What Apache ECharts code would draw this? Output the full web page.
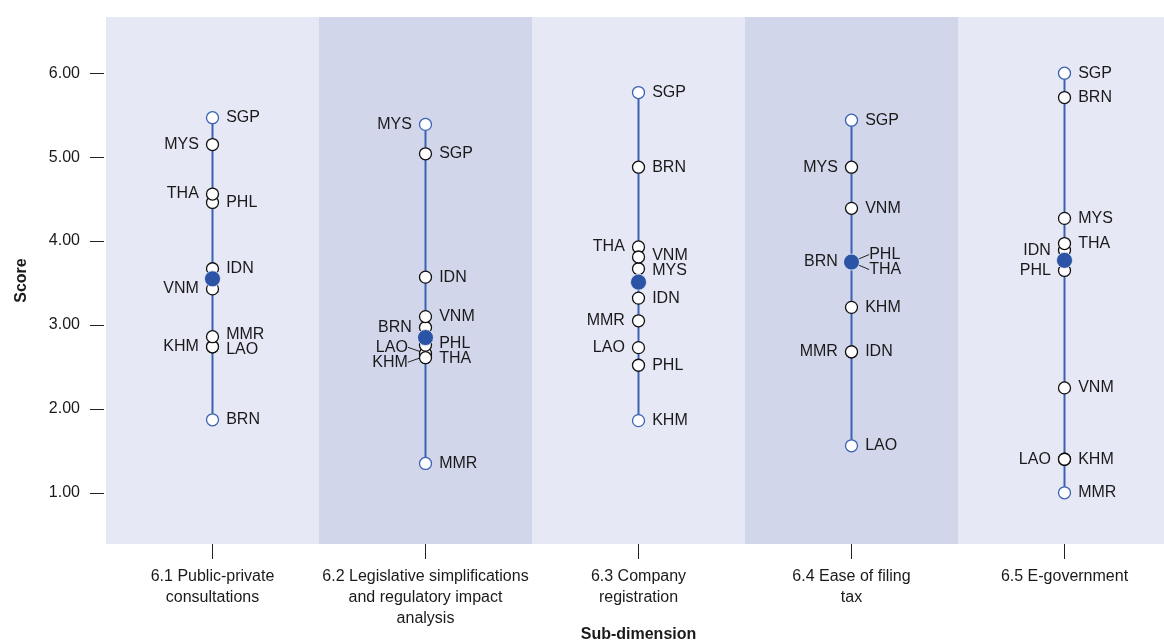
<!DOCTYPE html>
<html>
<head>
<meta charset="utf-8">
<script src="https://cdn.jsdelivr.net/npm/echarts@6/dist/echarts.min.js"></script>
<style>
  html, body { margin: 0; padding: 0; background: #fff; }
  #chart { width: 1164px; height: 644px; }
</style>
</head>
<body>
<div id="chart"></div>
<script>
const categories = [
  '6.1 Public-private\nconsultations',
  '6.2 Legislative simplifications\nand regulatory impact\nanalysis',
  '6.3 Company\nregistration',
  '6.4 Ease of filing\ntax',
  '6.5 E-government'
]
const yTicks = [1, 2, 3, 4, 5, 6]

// scores per country, one value per sub-dimension
const BRN = [1.87, 2.97, 4.88, 3.75, 5.71]
const KHM = [2.74, 2.63, 1.86, 3.21, 1.40]
const IDN = [3.67, 3.57, 3.32, 2.68, 3.89]
const LAO = [2.74, 2.66, 2.73, 1.56, 1.40]
const MYS = [5.15, 5.39, 3.67, 4.88, 4.27]
const MMR = [2.86, 1.35, 3.05, 2.68, 1.00]
const PHL = [4.46, 2.76, 2.52, 3.75, 3.65]
const SGP = [5.47, 5.04, 5.77, 5.44, 6.00]
const THA = [4.56, 2.61, 3.93, 3.75, 3.97]
const VNM = [3.43, 3.10, 3.81, 4.39, 2.25]
const average = [3.55, 2.85, 3.51, 3.75, 3.77]

const countries = [
  ['BRN', BRN], ['KHM', KHM], ['IDN', IDN], ['LAO', LAO], ['MYS', MYS],
  ['MMR', MMR], ['PHL', PHL], ['SGP', SGP], ['THA', THA], ['VNM', VNM]
]

// which labels sit on the left of their point (the rest go right)
const leftLabels = [
  ['MYS', 'THA', 'VNM', 'KHM'],
  ['MYS', 'BRN', 'LAO', 'KHM'],
  ['THA', 'MMR', 'LAO'],
  ['MYS', 'BRN', 'MMR'],
  ['IDN', 'PHL', 'LAO']
]

const FONT = '"Liberation Sans", Arial, sans-serif'
const BLUE = '#3b62b2'
const DOT = '#2b53a6'
const TEXT = '#1a1a1a'

const colMin = categories.map((c, i) => Math.min(...countries.map(d => d[1][i])))
const colMax = categories.map((c, i) => Math.max(...countries.map(d => d[1][i])))

// push overlapping labels apart (clusters centred on their points)
const spread = (items, gap) => {
  items.sort((a, b) => a.y - b.y)
  let clusters = items.map(it => ({ members: [it], center: it.y }))
  let changed = true
  while (changed) {
    changed = false
    for (let i = 0; i < clusters.length - 1; i++) {
      const a = clusters[i], b = clusters[i + 1]
      const aBottom = a.center + (a.members.length - 1) * gap / 2
      const bTop = b.center - (b.members.length - 1) * gap / 2
      if (bTop - aBottom < gap) {
        const members = a.members.concat(b.members)
        const center = members.reduce((s, m) => s + m.y, 0) / members.length
        clusters.splice(i, 2, { members, center })
        changed = true
        break
      }
    }
  }
  clusters.forEach(c => {
    c.members.forEach((m, k) => {
      m.labelY = c.center - (c.members.length - 1) * gap / 2 + k * gap
    })
  })
}

const buildOption = (pxOf) => {
  const points = []
  categories.forEach((c, i) => {
    const col = countries.map(([name, vals]) => ({
      name, value: vals[i], y: pxOf ? pxOf(vals[i]) : 0,
      left: leftLabels[i].includes(name)
    }))
    spread(col.filter(p => p.left), 15)
    spread(col.filter(p => !p.left), 15)
    col.forEach(p => {
      const dy = pxOf ? p.labelY - p.y : 0
      const leader = Math.abs(dy) > 2.5
      const extreme = p.value === colMin[i] || p.value === colMax[i]
      points.push({
        name: p.name,
        value: [i, p.value],
        itemStyle: { color: '#fff', borderColor: extreme ? BLUE : '#111', borderWidth: 1.3, opacity: 1 },
        label: {
          show: true,
          position: p.left ? 'left' : 'right',
          distance: leader ? 11 : 7,
          offset: [0, dy],
          formatter: p.name
        },
        labelLine: { show: leader, lineStyle: { color: '#222', width: 1 } }
      })
    })
  })

  return {
    animation: false,
    backgroundColor: '#fff',
    textStyle: { fontFamily: FONT },
    grid: { left: 106, right: -7, top: 17, bottom: 100, outerBoundsMode: 'none', containLabel: false },
    xAxis: {
      type: 'category',
      data: categories,
      boundaryGap: true,
      name: 'Sub-dimension',
      nameLocation: 'middle',
      nameGap: 83,
      nameMoveOverlap: false,
      nameTextStyle: { fontFamily: FONT, fontSize: 16, fontWeight: 'bold', color: TEXT },
      axisLine: { show: false },
      axisTick: { show: true, alignWithLabel: true, interval: 0, length: 15, lineStyle: { color: '#222' } },
      axisLabel: { interval: 0, margin: 22, fontFamily: FONT, fontSize: 16, lineHeight: 21, color: TEXT },
      splitLine: { show: false },
      splitArea: { show: true, interval: 0, areaStyle: { color: ['#e6e8f5', '#d2d6eb'] } }
    },
    yAxis: {
      type: 'value',
      min: 0.39,
      max: 6.67,
      offset: 2,
      name: 'Score',
      nameLocation: 'middle',
      nameGap: 74,
      nameMoveOverlap: false,
      nameTextStyle: { fontFamily: FONT, fontSize: 16, fontWeight: 'bold', color: TEXT },
      axisLine: { show: false },
      axisTick: { show: true, length: 14, customValues: yTicks, lineStyle: { color: '#222' } },
      axisLabel: {
        customValues: yTicks, margin: 24, fontFamily: FONT, fontSize: 16, color: TEXT,
        formatter: v => v.toFixed(2)
      },
      splitLine: { show: false }
    },
    series: [
      {
        type: 'custom',
        data: categories.map((c, i) => [i, colMin[i], colMax[i]]),
        encode: { x: 0, y: [1, 2] },
        renderItem: (params, api) => {
          const p1 = api.coord([api.value(0), api.value(1)])
          const p2 = api.coord([api.value(0), api.value(2)])
          return {
            type: 'line',
            shape: { x1: p1[0], y1: p1[1], x2: p2[0], y2: p2[1] },
            style: { stroke: BLUE, lineWidth: 2 }
          }
        },
        z: 2,
        silent: true
      },
      {
        type: 'scatter',
        symbol: 'circle',
        symbolSize: 12,
        data: points,
        itemStyle: { opacity: 1 },
        label: { fontFamily: FONT, fontSize: 16, color: TEXT },
        z: 3
      },
      {
        type: 'scatter',
        symbol: 'circle',
        symbolSize: 16,
        data: average.map((v, i) => [i, v]),
        itemStyle: { color: DOT, borderColor: '#e8ebf6', borderWidth: 0.8, opacity: 1 },
        z: 4
      }
    ]
  }
}

const chart = echarts.init(document.getElementById('chart'))
chart.setOption(buildOption(null))
const pxOf = v => chart.convertToPixel({ gridIndex: 0 }, [0, v])[1]
chart.setOption(buildOption(pxOf), true)
</script>
</body>
</html>
